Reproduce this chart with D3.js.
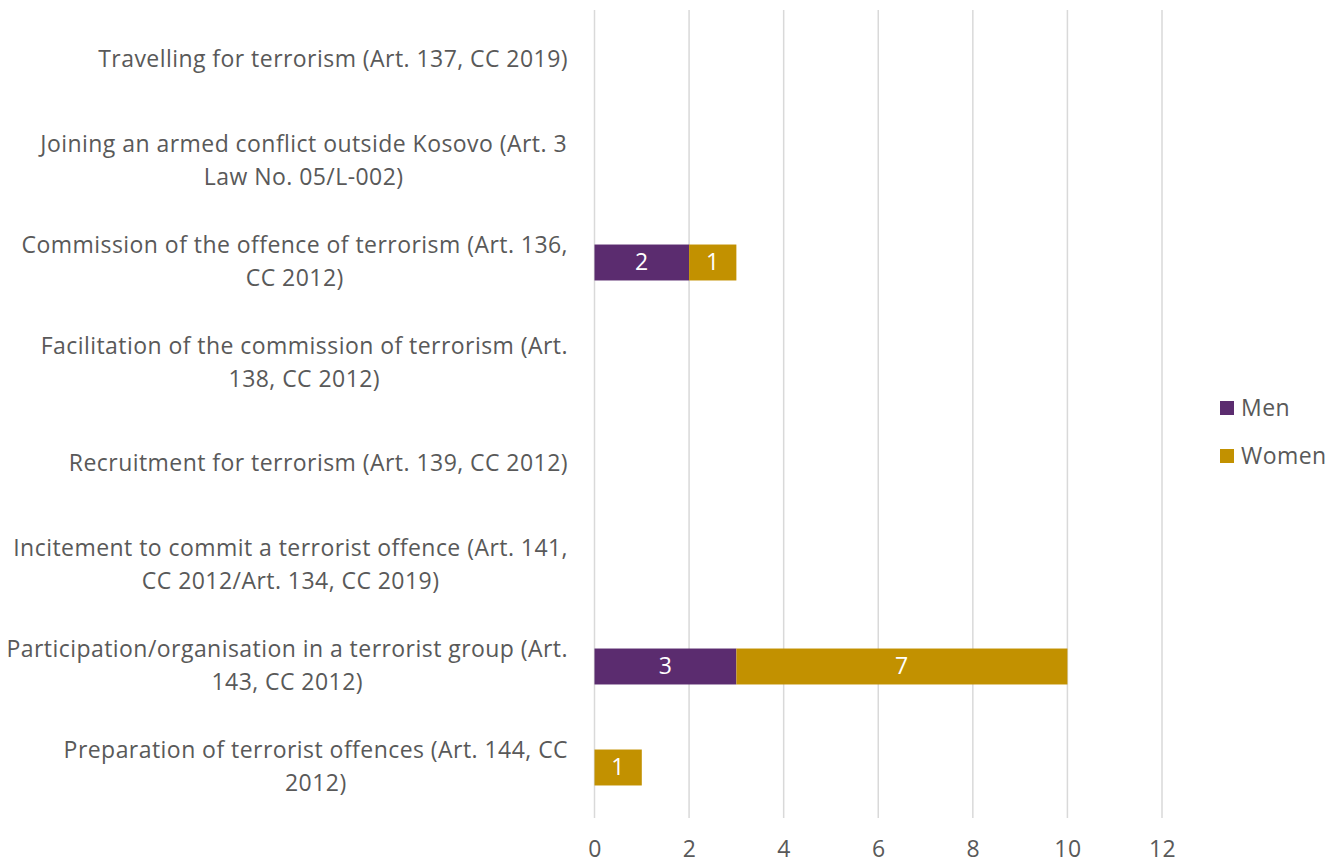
<!DOCTYPE html>
<html>
<head>
<meta charset="utf-8">
<script src="https://cdn.jsdelivr.net/npm/d3@7"></script>
<style>
  html, body { margin: 0; padding: 0; background: #fff; }
  svg { display: block; font-family: "Open Sans", sans-serif; }
  text { letter-spacing: 0.45px; }
</style>
</head>
<body>
<svg id="chart" width="1343" height="864"></svg>
<script>
// Offence categories, top to bottom; each entry is the wrapped label lines
const categories = [
  ["Travelling for terrorism (Art. 137, CC 2019)"],
  ["Joining an armed conflict outside Kosovo (Art. 3", "Law No. 05/L-002)"],
  ["Commission of the offence of terrorism (Art. 136,", "CC 2012)"],
  ["Facilitation of the commission of terrorism (Art.", "138, CC 2012)"],
  ["Recruitment for terrorism (Art. 139, CC 2012)"],
  ["Incitement to commit a terrorist offence (Art. 141,", "CC 2012/Art. 134, CC 2019)"],
  ["Participation/organisation in a terrorist group (Art.", "143, CC 2012)"],
  ["Preparation of terrorist offences (Art. 144, CC", "2012)"]
];
const men   = [0, 0, 2, 0, 0, 0, 3, 0];
const women = [0, 0, 1, 0, 0, 0, 7, 1];
const seriesNames = ["Men", "Women"];
const seriesColors = ["#5b2c6f", "#c29100"];
const xTicks = [0, 2, 4, 6, 8, 10, 12];

const FONT = 23;
const TEXT = "#595959";

const svg = d3.select("#chart");
const keys = categories.map((c, i) => i);

const x = d3.scaleLinear().domain([0, 12]).range([594.5, 1162]);
const y = d3.scaleBand().domain(keys).range([10, 818]).paddingInner(0.644).paddingOuter(0.322);

// vertical gridlines
svg.append("g").selectAll("line").data(xTicks).join("line")
  .attr("x1", d => x(d)).attr("x2", d => x(d))
  .attr("y1", 10).attr("y2", 818)
  .attr("stroke", "#d9d9d9").attr("stroke-width", 1.5);

// x axis tick labels
const xAxis = d3.axisBottom(x).tickValues(xTicks).tickSize(0).tickPadding(0);
const gx = svg.append("g").attr("transform", "translate(0,857)").call(xAxis);
gx.select(".domain").remove();
gx.selectAll("text")
  .attr("font-family", "Open Sans, sans-serif")
  .attr("font-size", FONT).attr("fill", TEXT).attr("y", 0).attr("dy", 0);

// stacked bars
const stackData = keys.map(i => ({ key: i, Men: men[i], Women: women[i] }));
const stacked = d3.stack().keys(seriesNames)(stackData);

const layers = svg.append("g").selectAll("g").data(stacked).join("g")
  .attr("fill", (d, i) => seriesColors[i]);

layers.selectAll("rect").data(d => d.filter(s => s[1] - s[0] > 0)).join("rect")
  .attr("x", d => x(d[0]))
  .attr("width", d => x(d[1]) - x(d[0]))
  .attr("y", d => y(d.data.key))
  .attr("height", y.bandwidth());

// value labels inside bars
layers.selectAll("text").data(d => d.filter(s => s[1] - s[0] > 0)).join("text")
  .attr("x", d => (x(d[0]) + x(d[1])) / 2)
  .attr("y", d => y(d.data.key) + y.bandwidth() / 2)
  .attr("dy", "0.34em")
  .attr("text-anchor", "middle")
  .attr("font-size", FONT)
  .attr("fill", "#ffffff")
  .text(d => d[1] - d[0]);

// category labels: centred lines, block right-aligned to the plot
const lineH = 33;
const labelG = svg.append("g");
categories.forEach((lines, i) => {
  const cy = y(i) + y.bandwidth() / 2;
  const t = labelG.append("text")
    .attr("font-size", FONT).attr("fill", TEXT)
    .attr("text-anchor", "middle");
  const n = lines.length;
  lines.forEach((ln, j) => {
    t.append("tspan").attr("x", 0)
      .attr("y", cy + (j - (n - 1) / 2) * lineH)
      .attr("dy", "0.3em")
      .text(ln);
  });
  const w = t.node().getBBox().width;
  t.attr("transform", `translate(${568 - w / 2},0)`);
});

// legend
const legend = svg.append("g").attr("transform", "translate(1220,0)");
const legendY = [408, 456];
seriesNames.forEach((name, i) => {
  legend.append("rect").attr("x", 0).attr("y", legendY[i] - 7)
    .attr("width", 14).attr("height", 14).attr("fill", seriesColors[i]);
  legend.append("text").attr("x", 21).attr("y", legendY[i]).attr("dy", "0.34em")
    .attr("font-size", FONT).attr("fill", TEXT).text(name);
});
</script>
</body>
</html>
